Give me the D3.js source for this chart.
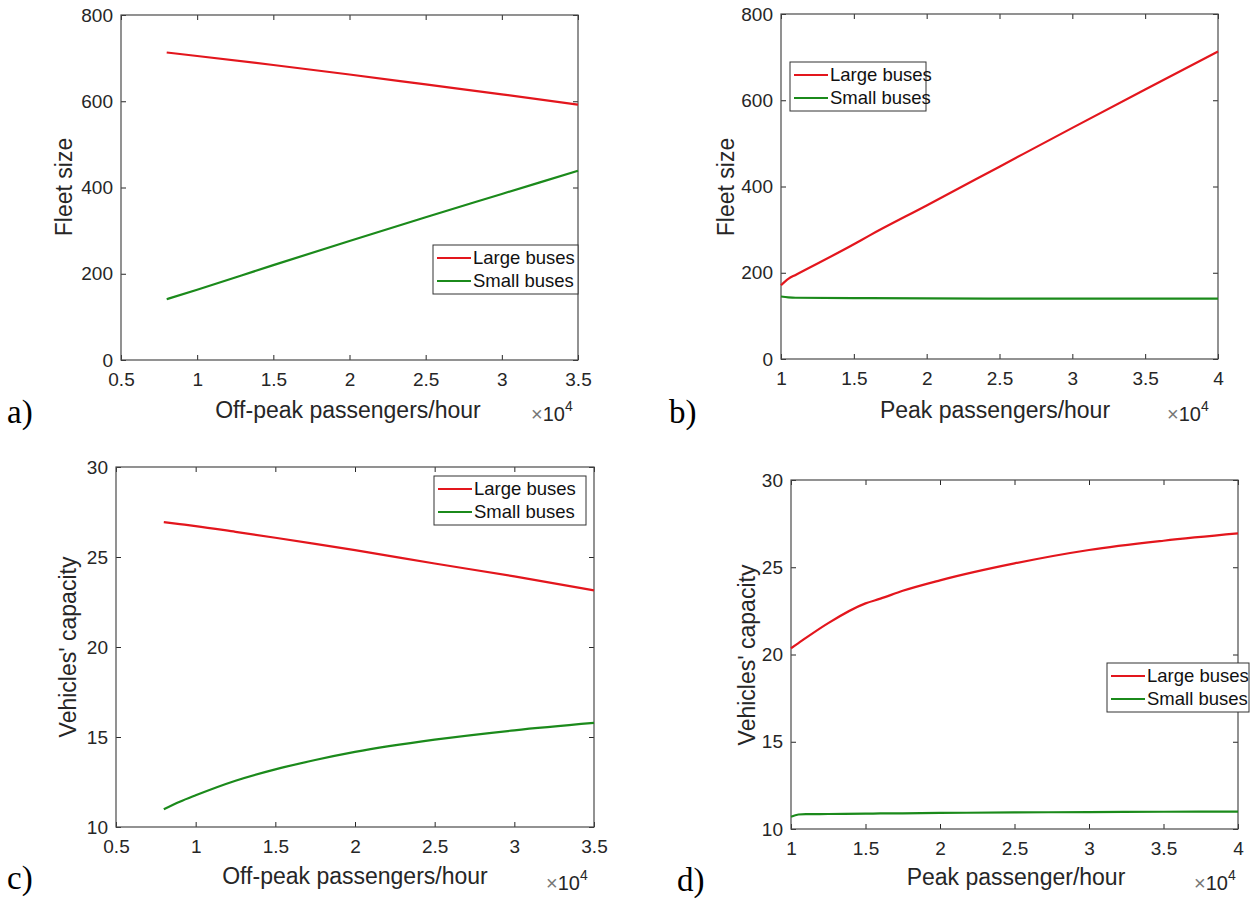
<!DOCTYPE html>
<html>
<head>
<meta charset="utf-8">
<script src="https://cdn.jsdelivr.net/npm/d3@7"></script>
<style>
  body { margin: 0; background: #fff; }
</style>
</head>
<body>
<div id="chart"></div>
<script>
const W = 1260;
const H = 902;

// a) fleet size vs off-peak demand
const offPeakA = [8000, 10000, 15000, 20000, 25000, 30000, 35000];
const fleetLargeA = [713, 705, 684, 662, 639, 616, 592];
const fleetSmallA = [141, 163, 220, 276, 331, 385, 439];

// b) fleet size vs peak demand
const peakB = [10000, 10500, 11000, 15000, 16000, 20000, 25000, 30000, 35000, 40000];
const fleetLargeB = [171, 186, 195, 266, 285, 356, 446, 536, 625, 713];
const fleetSmallB = [145, 143, 142, 141, 141, 140.5, 140, 140, 140, 140];

// c) capacity vs off-peak demand
const offPeakC = [8000, 9000, 10000, 12500, 15000, 17500, 20000, 25000, 30000, 35000];
const capLargeC = [26.94, 26.83, 26.72, 26.40, 26.07, 25.73, 25.38, 24.64, 23.92, 23.15];
const capSmallC = [10.98, 11.40, 11.76, 12.57, 13.20, 13.72, 14.17, 14.85, 15.37, 15.78];

// d) capacity vs peak demand
const peakD = [10000, 10500, 11000, 12500, 15000, 16000, 17500, 20000, 25000, 30000, 35000, 40000];
const capLargeD = [20.36, 20.65, 20.95, 21.80, 22.93, 23.20, 23.65, 24.25, 25.22, 25.99, 26.52, 26.94];
const capSmallD = [10.70, 10.83, 10.85, 10.86, 10.88, 10.89, 10.90, 10.92, 10.95, 10.97, 10.99, 11.00];

const offPeakTicks = [5000, 10000, 15000, 20000, 25000, 30000, 35000];
const peakTicks = [10000, 15000, 20000, 25000, 30000, 35000, 40000];
const fleetTicks = [0, 200, 400, 600, 800];
const capTicks = [10, 15, 20, 25, 30];
const seriesNames = ["Large buses", "Small buses"];

const colors = ["#e3161d", "#1b8a1b"];
const axisColor = "#262626";
const sans = "Liberation Sans, Arial, sans-serif";
const serif = "Liberation Serif, Times New Roman, serif";

const svg = d3.select("#chart").append("svg")
    .attr("width", W)
    .attr("height", H)
    .style("font-family", sans);

svg.append("rect").attr("width", W).attr("height", H).attr("fill", "#fff");

function drawPanel(p) {
    const x = d3.scaleLinear().domain(p.xDomain).range([p.left, p.right]);
    const y = d3.scaleLinear().domain(p.yDomain).range([p.bottom, p.top]);
    const g = svg.append("g");
    const fmtX = d => String(d / 1e4);

    // inward ticks on all four sides, labels only bottom/left
    const bx = g.append("g")
        .attr("transform", "translate(0," + p.bottom + ")")
        .call(d3.axisBottom(x).tickValues(p.xTicks).tickSize(-5).tickPadding(13).tickFormat(fmtX));
    const tx = g.append("g")
        .attr("transform", "translate(0," + p.top + ")")
        .call(d3.axisTop(x).tickValues(p.xTicks).tickSize(-5).tickFormat(""));
    const ly = g.append("g")
        .attr("transform", "translate(" + p.left + ",0)")
        .call(d3.axisLeft(y).tickValues(p.yTicks).tickSize(-5).tickPadding(8));
    const ry = g.append("g")
        .attr("transform", "translate(" + p.right + ",0)")
        .call(d3.axisRight(y).tickValues(p.yTicks).tickSize(-5).tickFormat(""));

    [bx, tx, ly, ry].forEach(a => {
        a.select(".domain").remove();
        a.selectAll(".tick line").attr("stroke", axisColor);
        a.selectAll("text")
            .style("font-size", "19px")
            .style("font-family", sans)
            .attr("fill", axisColor);
    });

    g.append("rect")
        .attr("x", p.left).attr("y", p.top)
        .attr("width", p.right - p.left)
        .attr("height", p.bottom - p.top)
        .attr("fill", "none")
        .attr("stroke", "#4a4a4a")
        .attr("stroke-width", 1.2);

    const line = d3.line()
        .x(d => x(d[0]))
        .y(d => y(d[1]))
        .curve(d3.curveMonotoneX);

    p.series.forEach((s, i) => {
        g.append("path")
            .datum(d3.zip(p.xs, s))
            .attr("d", line)
            .attr("fill", "none")
            .attr("stroke", colors[i])
            .attr("stroke-width", 2.2);
    });

    // axis titles
    g.append("text")
        .attr("transform", "translate(" + p.yLabelX + "," + p.yLabelY + ") rotate(-90)")
        .attr("text-anchor", "middle")
        .attr("dominant-baseline", "central")
        .style("font-size", "23px")
        .attr("fill", axisColor)
        .text(p.yLabel);

    g.append("text")
        .attr("x", p.xLabelX).attr("y", p.xLabelBase)
        .attr("text-anchor", "middle")
        .style("font-size", "23px")
        .attr("fill", axisColor)
        .text(p.xLabel);

    const exp = g.append("text")
        .attr("x", p.expX).attr("y", p.expBase)
        .style("font-size", "20px")
        .attr("fill", axisColor);
    exp.append("tspan").attr("fill", "#777").text("\u00d7");
    exp.append("tspan").text("10");
    exp.append("tspan").style("font-size", "14px").attr("dy", -10).text("4");

    // panel letter
    svg.append("text")
        .attr("x", p.letterX).attr("y", p.letterBase)
        .style("font-family", serif)
        .style("font-size", "33px")
        .attr("fill", "#000")
        .text(p.letter);

    // legend
    const lg = g.append("g").attr("transform", "translate(" + p.legX + "," + p.legY + ")");
    lg.append("rect")
        .attr("width", p.legW).attr("height", 49)
        .attr("fill", "#fff")
        .attr("stroke", "#333")
        .attr("stroke-width", 1);
    seriesNames.forEach((name, i) => {
        const cy = 13 + i * 23;
        lg.append("line")
            .attr("x1", 4).attr("x2", 38)
            .attr("y1", cy).attr("y2", cy)
            .attr("stroke", colors[i])
            .attr("stroke-width", 2);
        lg.append("text")
            .attr("x", 40).attr("y", cy)
            .attr("dy", "0.35em")
            .style("font-size", "18.5px")
            .attr("fill", "#111")
            .text(name);
    });
}

drawPanel({
    left: 121, right: 578, top: 15, bottom: 360,
    xDomain: [5000, 35000], yDomain: [0, 800],
    xTicks: offPeakTicks, yTicks: fleetTicks,
    xs: offPeakA, series: [fleetLargeA, fleetSmallA],
    yLabel: "Fleet size", yLabelX: 64, yLabelY: 187,
    xLabel: "Off-peak passengers/hour", xLabelX: 348, xLabelBase: 418,
    expX: 531, expBase: 421,
    letter: "a)", letterX: 7, letterBase: 423,
    legX: 433, legY: 245, legW: 145
});

drawPanel({
    left: 781, right: 1218, top: 14, bottom: 359,
    xDomain: [10000, 40000], yDomain: [0, 800],
    xTicks: peakTicks, yTicks: fleetTicks,
    xs: peakB, series: [fleetLargeB, fleetSmallB],
    yLabel: "Fleet size", yLabelX: 726, yLabelY: 187,
    xLabel: "Peak passengers/hour", xLabelX: 995, xLabelBase: 418,
    expX: 1167, expBase: 421,
    letter: "b)", letterX: 669, letterBase: 423,
    legX: 790, legY: 62, legW: 136
});

drawPanel({
    left: 116, right: 594, top: 467, bottom: 827,
    xDomain: [5000, 35000], yDomain: [10, 30],
    xTicks: offPeakTicks, yTicks: capTicks,
    xs: offPeakC, series: [capLargeC, capSmallC],
    yLabel: "Vehicles' capacity", yLabelX: 68, yLabelY: 647,
    xLabel: "Off-peak passengers/hour", xLabelX: 355, xLabelBase: 884,
    expX: 546, expBase: 890,
    letter: "c)", letterX: 7, letterBase: 889,
    legX: 434, legY: 476, legW: 152
});

drawPanel({
    left: 791, right: 1238, top: 480, bottom: 829,
    xDomain: [10000, 40000], yDomain: [10, 30],
    xTicks: peakTicks, yTicks: capTicks,
    xs: peakD, series: [capLargeD, capSmallD],
    yLabel: "Vehicles' capacity", yLabelX: 747, yLabelY: 655,
    xLabel: "Peak passenger/hour", xLabelX: 1016, xLabelBase: 885,
    expX: 1194, expBase: 890,
    letter: "d)", letterX: 677, letterBase: 891,
    legX: 1107, legY: 663, legW: 142
});
</script>
</body>
</html>
